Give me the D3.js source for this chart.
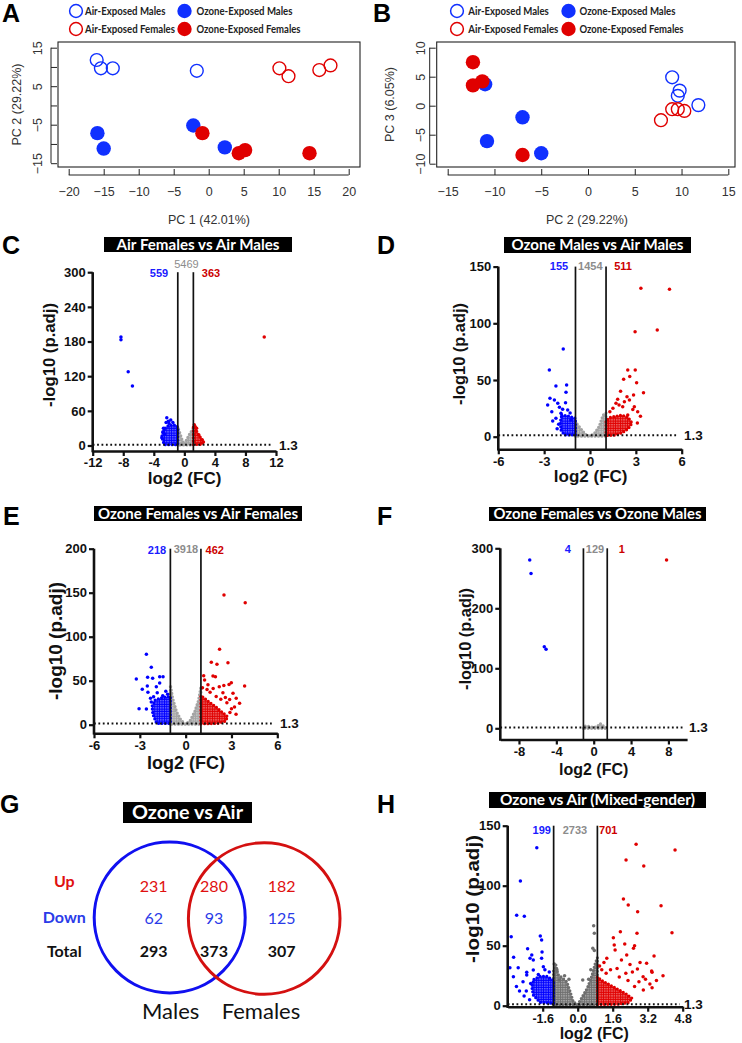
<!DOCTYPE html>
<html><head><meta charset="utf-8">
<script src="https://cdn.jsdelivr.net/npm/d3@7"></script>
<style>body{margin:0;background:#fff}svg{display:block}</style>
</head><body>
<script>
// ---------------- DATA ----------------
const legendLabels = ["Air-Exposed Males","Ozone-Exposed Males","Air-Exposed Females","Ozone-Exposed Females"];

// Panel A: PC1 vs PC2
const pcaA_airMales = [[-16.0,11.8],[-15.4,9.65],[-13.7,9.65],[-1.7,9.0]];
const pcaA_airFemales = [[10.1,9.65],[11.4,7.6],[15.8,9.2],[17.4,10.4]];
const pcaA_ozoneMales = [[-15.9,-7.2],[-15.0,-11.2],[-2.2,-5.2],[2.3,-10.9]];
const pcaA_ozoneFemales = [[-0.9,-7.2],[4.3,-12.4],[5.2,-11.6],[14.4,-12.4]];
const pcaAXTicks = [-20,-15,-10,-5,0,5,10,15,20];
const pcaAYTicks = [-15,-10,-5,0,5,10,15];
const pcaAYLabels = [-15,-5,5,15];

// Panel B: PC2 vs PC3
const pcaB_airMales = [[9.0,4.9],[9.8,2.6],[9.6,1.7],[11.8,0.1]];
const pcaB_airFemales = [[7.8,-2.5],[9.0,-0.6],[9.6,-0.6],[10.3,-0.9]];
const pcaB_ozoneMales = [[-11.0,3.7],[-10.8,-6.1],[-7.0,-2.0],[-5.0,-8.2]];
const pcaB_ozoneFemales = [[-12.3,7.5],[-12.3,3.5],[-11.3,4.2],[-7.0,-8.5]];
const pcaBXTicks = [-15,-10,-5,0,5,10,15];
const pcaBYTicks = [-10,-5,0,5,10];
const pcaBYLabels = [-10,-5,0,5,10];

// Panel C: Air Females vs Air Males
const cCounts = [559,5469,363];
const cThresh = [-0.86,1.18];
const cXTicks = [-12,-8,-4,0,4,8,12];
const cYTicks = [0,60,120,180,240,300];
const cDown = [[-8.3,188],[-8.3,183],[-7.35,127.7],[-6.8,103],[-2.3,48],[-1.78,44],[-2.39,40],[-2.74,29.7],[-2.95,13.5],[-2.1,42],[-2.6,20],[-2.8,24],[-1.5,40],[-2.0,38]];
const cUp = [[10.46,188],[1.4,33],[1.6,30],[1.9,18],[2.3,10],[2.5,6],[1.3,36]];
const cDownCloud = [[-2.52,30],[-2.09,34],[-1.44,36],[-1.0,34],[-0.86,29.7],[-0.86,1.5],[-2.65,1.5],[-2.95,15.2],[-2.82,23]];
const cUpCloud = [[1.18,32],[1.55,31],[1.65,22],[2.05,15],[2.4,9],[2.35,2],[1.18,1.5]];
const cNsCloud = [[-0.86,1],[-0.86,32],[-0.6,22],[-0.3,10],[0,2],[0.3,10],[0.7,20],[1.18,30],[1.18,1]];

// Panel D: Ozone Males vs Air Males
const dCounts = [155,1454,511];
const dThresh = [-0.95,1.05];
const dXTicks = [-6,-3,0,3,6];
const dYTicks = [0,50,100,150];
const dDown = [[-1.75,77.3],[-2.66,58.8],[-2.23,44.7],[-1.53,45.6],[-1.57,39.1],[-2.62,33.8],[-2.33,32.4],[-2.77,28],[-2.11,29.4],[-1.79,24.1],[-1.9,20.6],[-2.44,13.8],[-2.23,16.2],[-1.25,14.7],[-1.46,23.6],[-2.0,26],[-1.6,30],[-2.5,22],[-1.3,21],[-2.05,11],[-2.15,7]];
const dUp = [[3.33,130.9],[5.2,130],[2.95,92.6],[4.4,94],[2.47,58.8],[2.96,58.8],[2.2,50.6],[2.6,53],[3.05,47.6],[3.5,38.8],[2.42,35.3],[2.85,36.8],[1.81,33],[1.7,29.4],[2.14,26.5],[2.9,26.5],[3.12,22.1],[2.47,19.1],[2.25,30.9],[2.58,32.4],[1.5,25],[3.3,18],[2.0,40],[1.3,22],[3.1,12],[2.8,24],[1.9,28]];
const dDownCloud = [[-1.85,19],[-1.46,18.5],[-1.13,17],[-0.95,16.2],[-0.95,1.6],[-1.68,1.6],[-1.9,5.9],[-1.94,13.2]];
const dUpCloud = [[1.05,1],[1.05,14],[1.3,17],[1.7,18],[2.1,19],[2.5,17],[2.75,12],[2.5,7],[2.1,3.5],[1.6,1.3]];
const dNsCloud = [[-0.95,0.5],[-0.95,13],[-0.6,7],[-0.3,2],[0,0.5],[0.3,3],[0.6,9],[0.85,19],[1.05,21],[1.05,0.5]];

// Panel E: Ozone Females vs Air Females
const eCounts = [218,3918,462];
const eThresh = [-1,1];
const eXTicks = [-6,-3,0,3,6];
const eYTicks = [0,50,100,150,200];
const eDown = [[-2.57,80],[-2.25,65.2],[-3.23,51.9],[-2.49,53.8],[-2.16,52.7],[-1.7,54.5],[-1.48,54.5],[-2.84,40.2],[-2.51,44],[-1.92,43.2],[-1.7,47.5],[-2.47,36.8],[-3.05,18.2],[-2.57,17.8],[-2.25,25.7],[-2.1,31.8],[-1.86,36.4],[-1.5,33],[-1.18,34.6],[-2.3,30],[-1.3,38]];
const eUp = [[2.51,147.4],[3.9,138.7],[2.22,85.7],[1.68,70.9],[2.77,70.5],[2.05,68.6],[1.79,55.3],[1.95,54.6],[1.18,55.7],[2.99,47.7],[2.84,45.6],[3.86,44],[2.5,44.6],[1.24,50.8],[1.46,45.4],[2.2,43],[1.8,41],[3.1,35.7],[3.31,30],[3.53,24.4],[2.88,28.7],[2.44,36.2],[2.0,32],[2.6,31],[3.2,20],[1.4,40],[1.6,37],[2.7,25],[3.0,18],[1.1,42],[2.3,29],[2.9,14],[3.3,12]];
const eDownCloud = [[-2.0,28],[-1.5,31],[-1.0,32],[-1.0,1.5],[-1.9,1.5],[-2.15,12],[-2.2,21]];
const eUpCloud = [[1.0,1],[1.0,33],[1.3,29],[1.6,25],[2.0,20],[2.4,14],[2.75,9],[2.6,4],[2.1,1.5]];
const eNsCloud = [[-1,0.5],[-1,45],[-0.85,30],[-0.6,15],[-0.3,5],[0,0.5],[0.3,5],[0.6,15],[0.85,28],[1.0,43],[1,0.5]];

// Panel F: Ozone Females vs Ozone Males
const fCounts = [4,129,1];
const fThresh = [-1.1,1.45];
const fXTicks = [-8,-4,0,4,8];
const fYTicks = [0,100,200,300];
const fDown = [[-6.85,280.5],[-6.71,258],[-5.29,136],[-5.1,131.6]];
const fUp = [[7.8,280.5]];
const fNsCloud = [[-1.1,0],[-1.0,4],[-0.5,3],[0,1.5],[0.4,3],[0.7,8],[0.9,5],[1.2,2],[1.45,0]];

// Panel G: Venn
const vennRows = ["Up","Down","Total"];
const vennMales = [231,62,293];
const vennBoth = [280,93,373];
const vennFemales = [182,125,307];
const vennSets = ["Males","Females"];

// Panel H: Ozone vs Air (Mixed-gender)
const hCounts = [199,2733,701];
const hThresh = [-1.1,0.9];
const hXTicks = [-1.6,0,1.6,3.2,4.8];
const hYTicks = [0,50,100,150];
const hDown = [[-1.87,131.7],[-2.62,103.9],[-2.79,75.3],[-2.44,74.5],[-3.04,57.5],[-1.71,58],[-1.65,54.7],[-2.29,47.5],[-1.63,44.7],[-2.1,42.3],[-2.18,39.6],[-2.03,38.1],[-1.65,39.6],[-3.1,31.7],[-2.72,31.7],[-2.94,24.2],[-2.33,27.8],[-2.33,25.6],[-2.03,29.7],[-1.57,32.4],[-2.66,12.3],[-2.35,12.3],[-2.15,18.6],[-2.93,40.3],[-1.3,28],[-1.5,30],[-1.8,26],[-2.5,20],[-2.8,16],[-2.45,8],[-2.2,5]];
const hUp = [[2.67,134.5],[4.45,129.8],[2.21,121.4],[3.02,116.4],[2.09,88.9],[2.31,83.9],[3.81,83.3],[2.74,78.3],[4.31,60.8],[1.95,61.7],[2.71,60.3],[1.63,56.7],[1.67,50.6],[2.15,51.5],[2.6,50],[2.55,47.8],[3.49,41.4],[2.24,42.3],[1.71,46.4],[3.15,35.3],[3.38,29],[2.99,24.2],[2.73,30.6],[2.39,34.4],[1.33,39.5],[3.4,27.8],[1.2,36],[1.0,33],[2.0,38],[2.85,36],[3.1,22],[3.6,21],[3.3,18],[2.5,28],[1.8,31],[1.5,30],[2.2,27],[1.1,30],[1.3,27],[2.8,20],[3.9,25],[3.0,13],[3.4,15],[2.6,16],[2.3,21],[1.9,24]];
const hNs = [[0.73,66.7],[0.76,60.3],[0.69,47.8],[0.76,46],[0.23,21.4],[-0.84,21.4],[-1.07,34.7],[-0.6,25],[-0.4,22],[0.5,22],[0.6,30],[-0.95,30]];
const hDownCloud = [[-2.0,22],[-1.72,24.5],[-1.42,24.5],[-1.19,22],[-1.1,21],[-1.1,1.8],[-1.72,2.8],[-2.03,8.9],[-2.1,15.8]];
const hUpCloud = [[0.9,1],[0.9,24],[1.1,21],[1.4,18],[1.8,14],[2.2,10],[2.5,6],[2.3,2.5],[1.8,1.2]];
const hNsCloud = [[-1.1,0.5],[-1.1,30],[-1.0,34],[-0.9,26],[-0.7,23],[-0.5,20],[-0.35,12],[-0.2,3],[0,1],[0.2,7],[0.45,15],[0.65,25],[0.8,35],[0.9,40],[0.9,0.5]];

// ---------------- DRAWING ----------------
const ARIAL = "'Liberation Sans', Arial, Helvetica, sans-serif";
const CAL = "Lato, 'Open Sans', sans-serif";
const PBLUE = "#1030ff", PRED = "#e00000";
const VBLUE = "#0000ff", VRED = "#e00000";
const svg = d3.select("body").append("svg").attr("width",742).attr("height",1043).style("background","#fff");
const defs = svg.append("defs");
let patN = 0;
function dotPattern(col){
  const id = "dots"+(patN++);
  const p = defs.append("pattern").attr("id",id).attr("width",2.4).attr("height",2.4).attr("patternUnits","userSpaceOnUse");
  p.append("circle").attr("cx",1.2).attr("cy",1.2).attr("r",1.25).attr("fill",col);
  return "url(#"+id+")";
}

function letter(t,x,y,s){
  svg.append("text").attr("x",x).attr("y",y).attr("font-family",ARIAL).attr("font-weight","bold").attr("font-size",s).attr("fill","#000").text(t);
}
const fmtMinus = v => (v<0?"\u2212":"")+Math.abs(v);

function legend(x0, x1, tx0, tx1){
  const rows=[11,29];
  const widths=[80.5,96,90,104];
  const items=[
    {x:x0,tx:tx0,y:rows[0],col:PBLUE,fill:false,t:legendLabels[0],w:widths[0]},
    {x:x1,tx:tx1,y:rows[0],col:PBLUE,fill:true,t:legendLabels[1],w:widths[1]},
    {x:x0,tx:tx0,y:rows[1],col:PRED,fill:false,t:legendLabels[2],w:widths[2]},
    {x:x1,tx:tx1,y:rows[1],col:PRED,fill:true,t:legendLabels[3],w:widths[3]}];
  items.forEach(it=>{
    svg.append("circle").attr("cx",it.x).attr("cy",it.y).attr("r",it.fill?7.2:6.4)
      .attr("fill",it.fill?it.col:"none").attr("stroke",it.col).attr("stroke-width",it.fill?0:1.5);
    svg.append("text").attr("x",it.tx).attr("y",it.y+3.7).attr("font-family",CAL).attr("font-weight","bold")
      .attr("font-size",10.4).attr("fill","#222").attr("textLength",it.w).attr("lengthAdjust","spacingAndGlyphs").text(it.t);
  });
}

function drawPCA(c){
  const g=svg.append("g");
  const x=d3.scaleLinear().domain(c.xDom).range(c.xRange);
  const y=d3.scaleLinear().domain(c.yDom).range(c.yRange);
  g.append("rect").attr("x",c.box[0]).attr("y",c.box[1]).attr("width",c.box[2]-c.box[0]).attr("height",c.box[3]-c.box[1])
    .attr("fill","none").attr("stroke","#222").attr("stroke-width",1.1);
  const xa=c.box[3]+8;
  const gx=g.append("g").attr("transform",`translate(0,${xa})`)
    .call(d3.axisBottom(x).tickValues(c.xTicks).tickFormat(fmtMinus).tickSizeInner(-6).tickSizeOuter(0).tickPadding(12.5));
  gx.select(".domain").attr("stroke","#222").attr("d",`M${x(c.xTicks[0])},0H${x(c.xTicks[c.xTicks.length-1])}`);
  gx.selectAll(".tick line").attr("stroke","#222");
  gx.selectAll("text").attr("font-family",ARIAL).attr("font-size",12.5).attr("fill","#333");
  const ya=c.box[0]-7;
  const gy=g.append("g").attr("transform",`translate(${ya},0)`)
    .call(d3.axisLeft(y).tickValues(c.yTicks).tickFormat(v=>c.yLabels.includes(v)?fmtMinus(v):"").tickSizeInner(-6).tickSizeOuter(0));
  gy.select(".domain").attr("stroke","#222").attr("d",`M0,${y(c.yTicks[0])}V${y(c.yTicks[c.yTicks.length-1])}`);
  gy.selectAll(".tick line").attr("stroke","#222");
  gy.selectAll("text").attr("x",null).attr("dy",null).attr("text-anchor","middle")
    .attr("transform",`translate(${-c.yLabPad},0) rotate(-90)`)
    .attr("font-family",ARIAL).attr("font-size",12.5).attr("fill","#333");
  g.append("text").attr("x",c.xTitleX).attr("y",224).attr("text-anchor","middle").attr("font-family",ARIAL)
    .attr("font-size",12.5).attr("fill","#333").text(c.xTitle);
  const cy=(c.box[1]+c.box[3])/2;
  g.append("text").attr("transform",`translate(${c.yTitleX},${cy}) rotate(-90)`).attr("text-anchor","middle")
    .attr("font-family",ARIAL).attr("font-size",12.5).attr("fill","#333").text(c.yTitle);
  const groups=[[c.airMales,PBLUE,false],[c.airFemales,PRED,false],[c.ozoneMales,PBLUE,true],[c.ozoneFemales,PRED,true]];
  groups.forEach(([pts,col,fill])=>{
    g.selectAll(null).data(pts).enter().append("circle").attr("cx",d=>x(d[0])).attr("cy",d=>y(d[1]))
      .attr("r",fill?7.2:6.4).attr("fill",fill?col:"none").attr("stroke",col).attr("stroke-width",fill?0:1.4);
  });
}

function titleBox(t,x0,x1,y0,y1,fs,tw){
  svg.append("rect").attr("x",x0).attr("y",y0).attr("width",x1-x0).attr("height",y1-y0).attr("fill","#000");
  svg.append("text").attr("x",(x0+x1)/2).attr("y",(y0+y1)/2).attr("dy","0.37em").attr("text-anchor","middle")
    .attr("fill","#fff").attr("font-family",CAL).attr("font-weight","bold").attr("font-size",fs)
    .attr("textLength",tw).attr("lengthAdjust","spacingAndGlyphs").text(t);
}

function drawVolcano(c){
  const g=svg.append("g");
  const x=d3.scaleLinear().domain(c.xDom).range(c.xRange);
  const y=d3.scaleLinear().domain(c.yDom).range(c.yRange);
  const x0=c.xRange[0], x1=c.xRange[1], yTop=c.yRange[1], xa=c.xAxisY;
  const area=d3.line().x(d=>x(d[0])).y(d=>y(d[1])).curve(d3.curveLinearClosed);
  [[c.nsCloud,c.gray],[c.downCloud,VBLUE],[c.upCloud,VRED]].forEach(([pts,col])=>{
    if(!pts) return;
    g.append("path").attr("d",area(pts)).attr("fill",dotPattern(col)).attr("stroke",col).attr("stroke-width",3.2)
      .attr("stroke-linecap","round").attr("stroke-dasharray","0,3.4").attr("stroke-linejoin","round");
  });
  [[c.ns,c.gray],[c.down,VBLUE],[c.up,VRED]].forEach(([pts,col])=>{
    if(pts) g.selectAll(null).data(pts).enter().append("circle").attr("cx",d=>x(d[0])).attr("cy",d=>y(d[1])).attr("r",1.75).attr("fill",col);
  });
  c.thresh.forEach(t=>g.append("line").attr("x1",x(t)).attr("x2",x(t)).attr("y1",yTop).attr("y2",xa).attr("stroke","#111").attr("stroke-width",1.7));
  g.append("line").attr("x1",x0).attr("x2",x1-3).attr("y1",y(1.3)).attr("y2",y(1.3)).attr("stroke","#111")
    .attr("stroke-width",2).attr("stroke-dasharray","1.8,2.6");
  g.append("text").attr("x",c.oneX).attr("y",y(1.3)).attr("dy","0.36em").attr("font-family",ARIAL).attr("font-weight","bold")
    .attr("font-size",13.5).attr("fill","#111").text("1.3");
  // axes
  const gx=g.append("g").attr("transform",`translate(0,${xa})`)
    .call(d3.axisBottom(x).tickValues(c.xTicks).tickFormat(c.xFmt).tickSizeInner(5).tickSizeOuter(0).tickPadding(2));
  gx.select(".domain").attr("stroke","#111").attr("stroke-width",2.6);
  gx.selectAll(".tick line").attr("stroke","#111").attr("stroke-width",2.2);
  gx.selectAll("text").attr("font-family",ARIAL).attr("font-weight","bold").attr("font-size",c.tickFs||13).attr("fill","#111");
  const gy=g.append("g").attr("transform",`translate(${x0},0)`)
    .call(d3.axisLeft(y).tickValues(c.yTicks).tickSizeInner(5).tickSizeOuter(0).tickPadding(2));
  gy.select(".domain").attr("stroke","#111").attr("stroke-width",2.6).attr("d",`M0,${yTop}V${xa+1.3}`);
  gy.selectAll(".tick line").attr("stroke","#111").attr("stroke-width",2.2);
  gy.selectAll("text").attr("font-family",ARIAL).attr("font-weight","bold").attr("font-size",13).attr("fill","#111");
  // titles
  g.append("text").attr("x",c.xTitle.cx).attr("y",c.xTitle.y).attr("text-anchor","middle").attr("font-family",ARIAL)
    .attr("font-weight","bold").attr("font-size",c.xTitle.fs).attr("fill","#111").text("log2 (FC)");
  g.append("text").attr("transform",`translate(${c.yTitle.x},${c.yTitle.cy}) rotate(-90)`).attr("text-anchor","middle")
    .attr("font-family",ARIAL).attr("font-weight","bold").attr("font-size",c.yTitle.fs).attr("fill","#111")
    .attr("textLength",c.yTitle.len).attr("lengthAdjust","spacingAndGlyphs").text("-log10 (p.adj)");
  // counts
  const cols=["#1a1aff","#8c8c8c","#cc0000"];
  c.counts.forEach((v,i)=>{
    g.append("text").attr("x",c.countX[i]).attr("y",c.countY[i]).attr("text-anchor","middle").attr("font-family",ARIAL)
      .attr("font-weight",(i===1&&c.nsNormal)?"normal":"bold").attr("font-size",11).attr("fill",cols[i]).text(v);
  });
}
const intFmt = v => String(v);

// ---- Panels A, B ----
letter("A",2,22,25);
letter("B",373,22,25);
legend(76,184.5,85,196.5);
legend(457,568.5,468.3,579.5);
drawPCA({xDom:[-20,20],xRange:[68.7,348.7],yDom:[-15,15],yRange:[163.2,47.7],box:[58,42,360,167],
  xTicks:pcaAXTicks,yTicks:pcaAYTicks,yLabels:pcaAYLabels,xTitle:"PC 1 (42.01%)",yTitle:"PC 2 (29.22%)",
  xTitleX:209,yTitleX:21,yLabPad:9.5,
  airMales:pcaA_airMales,airFemales:pcaA_airFemales,ozoneMales:pcaA_ozoneMales,ozoneFemales:pcaA_ozoneFemales});
drawPCA({xDom:[-15,15],xRange:[447.7,728.3],yDom:[-10,10],yRange:[163.7,47.7],box:[436.7,42,735,167],
  xTicks:pcaBXTicks,yTicks:pcaBYTicks,yLabels:pcaBYLabels,xTitle:"PC 2 (29.22%)",yTitle:"PC 3 (6.05%)",
  xTitleX:587,yTitleX:393.5,yLabPad:5,
  airMales:pcaB_airMales,airFemales:pcaB_airFemales,ozoneMales:pcaB_ozoneMales,ozoneFemales:pcaB_ozoneFemales});

// ---- Volcano panels ----
letter("C",2,254,25);
titleBox("Air Females vs Air Males",104,292,237,252,14.5,163);
drawVolcano({xDom:[-12,12],xRange:[92.7,276],yDom:[0,300],yRange:[445.5,272.2],xAxisY:451,
  xTicks:cXTicks,yTicks:cYTicks,xFmt:intFmt,thresh:cThresh,gray:"#a3a3a3",
  down:cDown,up:cUp,downCloud:cDownCloud,upCloud:cUpCloud,nsCloud:cNsCloud,
  counts:cCounts,countX:[159,186.5,211],countY:[277,268,277],nsNormal:true,
  yTitle:{x:55,cy:355,len:104,fs:17},xTitle:{cx:184.5,y:484,fs:17},oneX:279});

letter("D",377,254,25);
titleBox("Ozone Males vs Air Males",504,691,237,253,14.5,172);
drawVolcano({xDom:[-6,6],xRange:[498.3,681.7],yDom:[0,150],yRange:[436.7,266.6],xAxisY:449.3,
  xTicks:dXTicks,yTicks:dYTicks,xFmt:intFmt,thresh:dThresh,gray:"#a3a3a3",
  down:dDown,up:dUp,downCloud:dDownCloud,upCloud:dUpCloud,nsCloud:dNsCloud,
  counts:dCounts,countX:[559,590.3,623],countY:[270,270,270],
  yTitle:{x:465,cy:354,len:102,fs:16.5},xTitle:{cx:590.7,y:482,fs:17},oneX:684});

letter("E",3,525,25);
titleBox("Ozone Females vs Air Females",94,302,506,521,14.5,200);
drawVolcano({xDom:[-6,6],xRange:[94,277.3],yDom:[0,200],yRange:[724.7,548.7],xAxisY:733.3,
  xTicks:eXTicks,yTicks:eYTicks,xFmt:intFmt,thresh:eThresh,gray:"#a3a3a3",
  down:eDown,up:eUp,downCloud:eDownCloud,upCloud:eUpCloud,nsCloud:eNsCloud,
  counts:eCounts,countX:[157,186,214.7],countY:[554,553,554],
  yTitle:{x:62,cy:641,len:118,fs:18},xTitle:{cx:186,y:769,fs:18},oneX:280});

letter("F",377,525,25);
titleBox("Ozone Females vs Ozone Males",489,706,507,521,14.5,208);
drawVolcano({xDom:[-10,10],xRange:[500.3,687.1],yDom:[0,300],yRange:[728.3,548.3],xAxisY:739.5,
  xTicks:fXTicks,yTicks:fYTicks,xFmt:intFmt,thresh:fThresh,gray:"#a3a3a3",
  down:fDown,up:fUp,nsCloud:fNsCloud,
  counts:fCounts,countX:[567.7,595,621.7],countY:[553,553,553],
  yTitle:{x:471,cy:639,len:102,fs:16.5},xTitle:{cx:593.7,y:775,fs:16},oneX:689});

letter("H",377,813,25);
titleBox("Ozone vs Air (Mixed-gender)",489,706,792,808,14.5,195);
drawVolcano({xDom:[-3.2,4.8],xRange:[507.7,682.7],yDom:[0,150],yRange:[1005.7,825.7],xAxisY:1006.7,
  xTicks:hXTicks,yTicks:hYTicks,xFmt:v=>v.toFixed(1),thresh:hThresh,gray:"#6e6e6e",tickFs:12.5,
  down:hDown,up:hUp,ns:hNs,downCloud:hDownCloud,upCloud:hUpCloud,nsCloud:hNsCloud,
  counts:hCounts,countX:[541.7,575,608.3],countY:[834,834,834],
  yTitle:{x:479,cy:899,len:128,fs:18},xTitle:{cx:594.3,y:1039,fs:16},oneX:684});

// ---- Panel G: Venn ----
letter("G",0,813,25);
titleBox("Ozone vs Air",123,252,802,823,18,111);
svg.append("circle").attr("cx",169.7).attr("cy",917.5).attr("r",75.5).attr("fill","none").attr("stroke","#1010f0").attr("stroke-width",3);
svg.append("circle").attr("cx",264.2).attr("cy",918.5).attr("r",75.8).attr("fill","none").attr("stroke","#d41010").attr("stroke-width",3);
const rowCols=["#e01010","#2a3be8","#111"];
const rowLabY=[886.5,922.7,956.7];
const rowNumY=[891.7,924,957];
vennRows.forEach((r,i)=>{
  svg.append("text").attr("x",64.3).attr("y",rowLabY[i]).attr("text-anchor","middle").attr("font-family",CAL)
    .attr("font-weight","bold").attr("font-size",16).attr("fill",rowCols[i]).text(r);
  [[vennMales,153.7],[vennBoth,214],[vennFemales,281.7]].forEach(([arr,cx])=>{
    svg.append("text").attr("x",cx).attr("y",rowNumY[i]).attr("text-anchor","middle").attr("font-family",CAL)
      .attr("font-weight",i===2?"bold":"normal").attr("font-size",16).attr("fill",rowCols[i]).text(arr[i]);
  });
});
svg.append("text").attr("x",170.7).attr("y",1019).attr("text-anchor","middle").attr("font-family",CAL).attr("font-size",22).attr("fill","#111").text(vennSets[0]);
svg.append("text").attr("x",261).attr("y",1019).attr("text-anchor","middle").attr("font-family",CAL).attr("font-size",22).attr("fill","#111").text(vennSets[1]);
</script>
</body></html>
